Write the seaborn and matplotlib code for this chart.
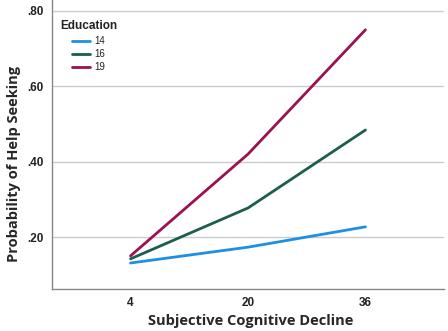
import matplotlib
matplotlib.use("Agg")
import matplotlib.pyplot as plt
import seaborn as sns
import pandas as pd

scd = [4, 20, 36]
edu_levels = ["14", "16", "19"]
prob_14 = [0.131, 0.173, 0.227]
prob_16 = [0.142, 0.277, 0.484]
prob_19 = [0.150, 0.420, 0.750]
y_ticks = [0.20, 0.40, 0.60, 0.80]
y_tick_labels = [".20", ".40", ".60", ".80"]

rows = []
for lvl, vals in zip(edu_levels, [prob_14, prob_16, prob_19]):
    for x, v in zip(scd, vals):
        rows.append({"SCD": x, "Prob": v, "Education": lvl})
df = pd.DataFrame(rows)

sns.set_style("white")
plt.rcParams['font.family'] = ['Liberation Sans', 'DejaVu Sans']

fig = plt.figure(figsize=(4.48, 3.31), dpi=100)
ax = fig.add_axes([52/448, 42/331, 392/448, 289/331])

palette = {"14": "#1e8fe3", "16": "#1b5e4e", "19": "#9c1150"}
sns.lineplot(data=df, x="SCD", y="Prob", hue="Education", palette=palette,
             linewidth=2.0, ax=ax, legend=True)

ax.set_xlim(-6.7, 46.7)
ax.set_ylim(0.062, 0.829)
ax.set_xticks(scd)
ax.set_xticklabels([str(s) for s in scd], fontsize=8.5, fontweight='bold', color='#222222')
ax.set_yticks(y_ticks)
ax.set_yticklabels(y_tick_labels, fontsize=8.5, fontweight='bold', color='#222222')
ax.tick_params(axis='y', length=0, pad=6)
ax.tick_params(axis='x', length=0, pad=6)
ax.grid(axis='y', color='#cccccc', linewidth=1)
ax.set_axisbelow(True)
for s in ['top', 'right']:
    ax.spines[s].set_visible(False)
for s in ['left', 'bottom']:
    ax.spines[s].set_color('#888888')
    ax.spines[s].set_linewidth(1)

ax.set_xlabel("Subjective Cognitive Decline", fontsize=10.5, fontweight='bold',
              family=['Open Sans', 'DejaVu Sans'])
ax.set_ylabel("Probability of Help Seeking", fontsize=10.5, fontweight='bold',
              family=['Open Sans', 'DejaVu Sans'])
ax.xaxis.set_label_coords(0.508, -0.085)
ax.yaxis.set_label_coords(-0.08, 0.433)

handles, labels = ax.get_legend_handles_labels()
leg = ax.legend(handles, labels, loc='upper left', bbox_to_anchor=(0.052, 0.875),
                frameon=False, fontsize=7, handlelength=1.8,
                handletextpad=0.5, labelspacing=0.3, borderaxespad=0.0, borderpad=0.0)
for t in leg.get_texts():
    t.set_color('#222222')
ax.text(0.02, 0.91, "Education", transform=ax.transAxes, fontsize=8.5,
        fontweight='bold', color='#222222', ha='left', va='center')

fig.savefig("out.png", dpi=100)
